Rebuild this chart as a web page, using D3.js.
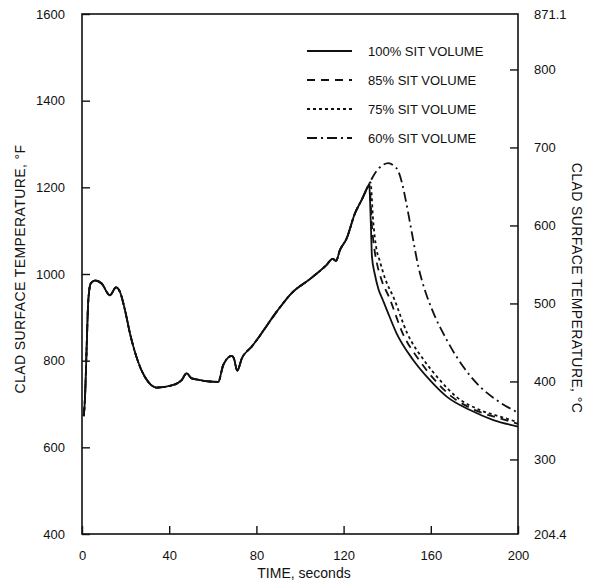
<!DOCTYPE html>
<meta charset="utf-8">
<style>
body { margin: 0; background: #fff; }
text { font-family: "Liberation Sans", Arial, sans-serif; fill: #111; }
</style>
<body>
<div id="chart"></div>
<script src="https://d3js.org/d3.v7.min.js"></script>
<script>

// time (s) and clad temperature (F) shared by every case until the peak
var commonTime = [0.8, 1.4, 2.1, 2.9, 4, 6, 9, 12.8, 15.6, 17.4, 19.7, 22, 26.6, 30.4, 34.3, 41.9, 45.7, 48, 50.3, 62.5, 64.8, 68.7, 69.7, 71.2, 73.3, 77.8, 90.8, 96, 105, 112, 115, 116.5, 118.3, 121.4, 125.2, 128.3, 131.3];
var commonTemp = [672, 717, 825, 940, 978, 985, 978, 951, 969, 959, 917, 863, 786, 751, 738, 744, 755, 771, 759, 751, 790, 811, 805, 777, 805, 832, 923, 955, 990, 1020, 1035, 1030, 1055, 1082, 1140, 1171, 1203];

// quench part of each case
var time100 = [131.8, 132.2, 132.6, 133.0, 134.3, 136.0, 138.0, 140.0, 144.3, 152.0, 159.6, 167.3, 178.0, 188.7, 200];
var temp100 = [1205, 1160, 1100, 1040, 1000, 965, 940, 915, 863, 801, 755, 717, 686, 663, 648];
var time85 = [131.8, 133.0, 134.2, 135.5, 137.5, 141.0, 147.1, 154.7, 161.9, 169.6, 180.3, 191.7, 200];
var temp85 = [1207, 1110, 1055, 1020, 985, 945, 863, 801, 755, 717, 686, 667, 654];
var time75 = [132.3, 133.6, 135.0, 136.6, 139.0, 143.0, 149.2, 156.9, 164.2, 171.6, 182.6, 191.7, 200];
var temp75 = [1212, 1120, 1060, 1030, 990, 945, 863, 801, 755, 717, 686, 671, 658];
var time60 = [133.5, 136.0, 138.2, 140.5, 143.0, 145.2, 146.8, 148.2, 151.2, 154.3, 157.8, 160.0, 167.3, 174.9, 182.6, 190.2, 200];
var temp60 = [1225, 1243, 1252, 1256, 1250, 1236, 1210, 1178, 1098, 1017, 955, 925, 848, 786, 740, 709, 680];

var seriesNames = ["100% SIT VOLUME", "85% SIT VOLUME", "75% SIT VOLUME", "60% SIT VOLUME"];
var dashes = ["none", "8,6", "3,3", "10,4,2,4"];

var xTicks = [0, 40, 80, 120, 160, 200];
var yTicksF = [400, 600, 800, 1000, 1200, 1400, 1600];
var yTicksC = [300, 400, 500, 600, 700, 800];

function zipPts(t, v) { return t.map(function(d, i) { return [d, v[i]]; }); }
var common = zipPts(commonTime, commonTemp);
var lines = [
  common.concat(zipPts(time100, temp100)),
  common.concat(zipPts(time85, temp85)),
  common.concat(zipPts(time75, temp75)),
  common.concat(zipPts(time60, temp60))
];

var W = 593, H = 584;
var margin = {top: 14, right: 75, bottom: 50, left: 82};
var width = W - margin.left - margin.right,
    height = H - margin.top - margin.bottom;

var svg = d3.select("#chart").append("svg")
    .attr("width", W).attr("height", H)
  .append("g")
    .attr("transform", "translate(" + margin.left + "," + margin.top + ")");

var x = d3.scaleLinear().domain([0, 200]).range([0, width]);
var y = d3.scaleLinear().domain([400, 1600]).range([height, 0]);
var yC = d3.scaleLinear().domain([204.4, 871.1]).range([height, 0]);

// frame
svg.append("rect")
  .attr("width", width).attr("height", height)
  .attr("fill", "none").attr("stroke", "#111").attr("stroke-width", 1.6);

// bottom axis
var gx = svg.append("g")
  .attr("transform", "translate(0," + height + ")")
  .call(d3.axisBottom(x).tickValues(xTicks).tickSize(-8).tickPadding(17).tickFormat(d3.format("d")));

// left axis
var gy = svg.append("g")
  .call(d3.axisLeft(y).tickValues(yTicksF).tickSize(-8).tickPadding(17).tickFormat(d3.format("d")));

// right axis
var gc = svg.append("g")
  .attr("transform", "translate(" + width + ",0)")
  .call(d3.axisRight(yC).tickValues(yTicksC).tickSize(-8).tickPadding(16).tickFormat(d3.format("d")));

[gx, gy, gc].forEach(function(g) {
  g.select(".domain").remove();
  g.selectAll("line").attr("stroke", "#111").attr("stroke-width", 1.4);
  g.selectAll("text").attr("font-size", 13).attr("font-family", null);
});

// end labels on the celsius side
svg.append("text").attr("x", width + 16).attr("y", y(1600)).attr("dy", "0.35em")
  .attr("font-size", 13).text("871.1");
svg.append("text").attr("x", width + 16).attr("y", y(400)).attr("dy", "0.35em")
  .attr("font-size", 13).text("204.4");

// axis titles
svg.append("text")
  .attr("transform", "translate(" + (-62) + "," + (height / 2 - 5) + ") rotate(-90)")
  .attr("text-anchor", "middle").attr("dy", "0.35em")
  .attr("font-size", 14).attr("letter-spacing", 0.4)
  .text("CLAD SURFACE TEMPERATURE, \u00B0F");

svg.append("text")
  .attr("transform", "translate(" + (width + 59) + "," + (height / 2 + 14) + ") rotate(90)")
  .attr("text-anchor", "middle").attr("dy", "0.35em")
  .attr("font-size", 14).attr("letter-spacing", 0.4)
  .text("CLAD SURFACE TEMPERATURE, \u00B0C");

svg.append("text")
  .attr("x", x(100) + 4).attr("y", height + 44)
  .attr("text-anchor", "middle")
  .attr("font-size", 14)
  .text("TIME, seconds");

// curves, drawn last case first so the solid line sits on top
var line = d3.line()
  .x(function(d) { return x(d[0]); })
  .y(function(d) { return y(d[1]); })
  .curve(d3.curveMonotoneX);

svg.selectAll(".case")
  .data(d3.range(lines.length).reverse())
  .enter().append("path")
    .attr("class", "case")
    .attr("d", function(i) { return line(lines[i]); })
    .attr("fill", "none")
    .attr("stroke", "#111")
    .attr("stroke-width", 1.8)
    .attr("stroke-dasharray", function(i) { return dashes[i]; });

// legend
var legend = svg.selectAll(".legend")
  .data(seriesNames)
  .enter().append("g")
    .attr("class", "legend")
    .attr("transform", function(d, i) { return "translate(225," + (37 + i * 29) + ")"; });

legend.append("line")
  .attr("x1", 0).attr("x2", 45)
  .attr("stroke", "#111").attr("stroke-width", 1.8)
  .attr("stroke-dasharray", function(d, i) { return dashes[i]; });

legend.append("text")
  .attr("x", 61).attr("dy", "0.35em")
  .attr("font-size", 13)
  .text(function(d) { return d; });

</script>
</body>
